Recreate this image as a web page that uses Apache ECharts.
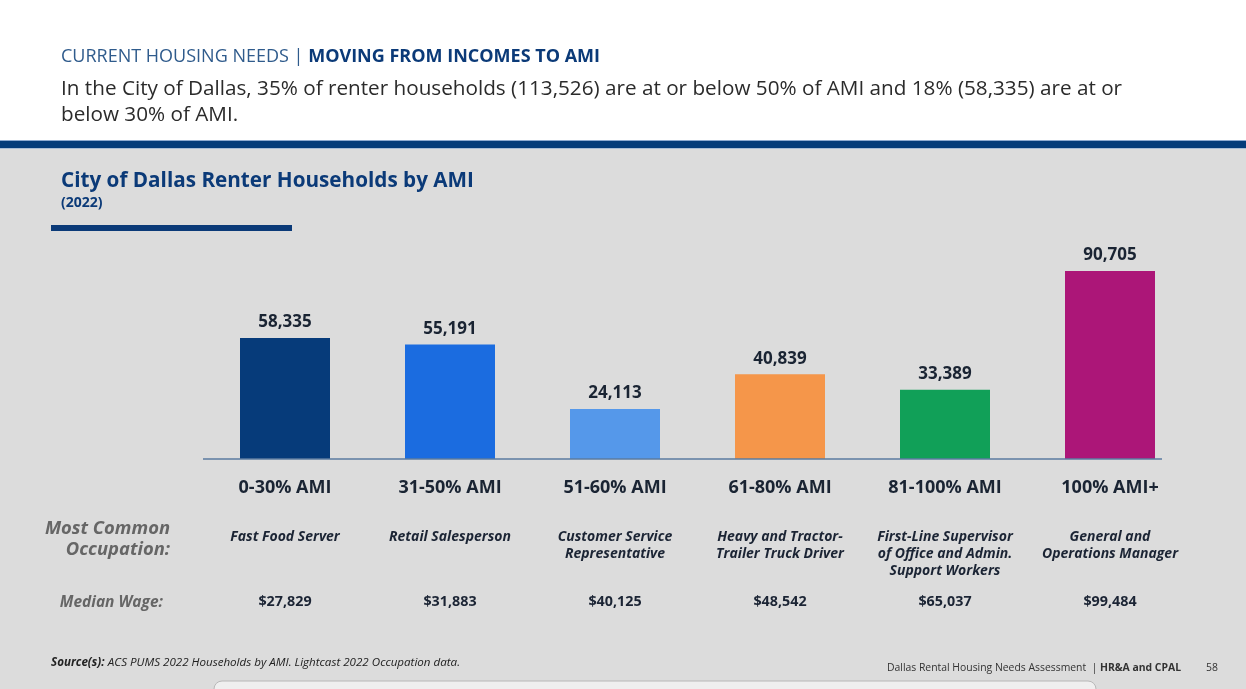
<!DOCTYPE html>
<html>
<head>
<meta charset="utf-8">
<script src="https://cdn.jsdelivr.net/npm/echarts@6/dist/echarts.min.js"></script>
<style>
html,body{margin:0;padding:0;background:#dcdcdc;}
#chart{width:1246px;height:689px;}
</style>
</head>
<body>
<div id="chart"></div>
<script>
const categories = ['0-30% AMI', '31-50% AMI', '51-60% AMI', '61-80% AMI', '81-100% AMI', '100% AMI+'];
const households = [58335, 55191, 24113, 40839, 33389, 90705];
const barColors = ['#063b7a', '#1b6ce0', '#5598ea', '#f5964a', '#11a058', '#ac1678'];
const occupations = ['Fast Food Server', 'Retail Salesperson', 'Customer Service\nRepresentative', 'Heavy and Tractor-\nTrailer Truck Driver', 'First-Line Supervisor\nof Office and Admin.\nSupport Workers', 'General and\nOperations Manager'];
const medianWages = ['$27,829', '$31,883', '$40,125', '$48,542', '$65,037', '$99,484'];

const FONT = '"Open Sans", "Noto Sans", sans-serif';
const NAVY = '#0b3a78';
const chart = echarts.init(document.getElementById('chart'), null, {renderer: 'canvas'});

const fmt = v => v.toLocaleString('en-US');

chart.setOption({
  backgroundColor: '#dcdcdc',
  animation: false,
  textStyle: {fontFamily: FONT},
  grid: {left: 202.5, right: 53.5, top: 251.7, bottom: 230},
  xAxis: [
    {
      type: 'category', data: categories, gridIndex: 0, position: 'bottom',
      axisLine: {show: false}, axisTick: {show: false},
      axisLabel: {margin: 19.5, fontSize: 18, fontWeight: 'bold', color: '#1a2433', fontFamily: FONT}
    },
    {
      type: 'category', data: occupations, gridIndex: 0, position: 'bottom',
      axisLine: {show: false}, axisTick: {show: false},
      axisLabel: {margin: 70, fontSize: 14, fontWeight: 'bold', fontStyle: 'italic', lineHeight: 17, color: '#1b2434', fontFamily: FONT, interval: 0}
    },
    {
      type: 'category', data: medianWages, gridIndex: 0, position: 'bottom',
      axisLine: {show: false}, axisTick: {show: false},
      axisLabel: {margin: 136, fontSize: 14.3, fontWeight: 'bold', color: '#1b2434', fontFamily: FONT, interval: 0}
    }
  ],
  yAxis: {
    type: 'value', min: 0, max: 100000, show: false,
    splitLine: {show: false}
  },
  series: [{
    type: 'bar',
    xAxisIndex: 0,
    data: households.map((v, i) => ({value: v, itemStyle: {color: barColors[i]}})),
    barWidth: 90,
    label: {
      show: true, position: 'top', distance: 7,
      formatter: p => fmt(p.value),
      fontSize: 17, fontWeight: 'bold', color: '#1a2433', fontFamily: FONT
    }
  }],
  graphic: [
    {type: 'rect', shape: {x: 0, y: 0, width: 1246, height: 141}, style: {fill: '#ffffff'}, z: -10, silent: true},
    {type: 'rect', shape: {x: 0, y: 140, width: 1246, height: 1}, style: {fill: '#8eaad0'}, z: -9, silent: true},
    {type: 'rect', shape: {x: 0, y: 141, width: 1246, height: 7}, style: {fill: '#053c7a'}, z: -9, silent: true},
    {type: 'rect', shape: {x: 0, y: 148, width: 1246, height: 1}, style: {fill: '#a9bdd6'}, z: -9, silent: true},
    {
      type: 'text', left: 61, top: 48,
      style: {
        text: '{a|CURRENT HOUSING NEEDS | }{b|MOVING FROM INCOMES TO AMI}',
        rich: {
          a: {fontSize: 18, fontFamily: FONT, fill: '#2f5b8c', fontWeight: 'normal'},
          b: {fontSize: 18, fontFamily: FONT, fill: NAVY, fontWeight: 'bold'}
        }
      }
    },
    {
      type: 'text', left: 61, top: 76,
      style: {
        text: 'In the City of Dallas, 35% of renter households (113,526) are at or below 50% of AMI and 18% (58,335) are at or\nbelow 30% of AMI.',
        fontSize: 20.7, lineHeight: 26, fontFamily: FONT, fill: '#2b2b2b'
      }
    },
    {
      type: 'text', left: 61, top: 171,
      style: {text: 'City of Dallas Renter Households by AMI', fontSize: 20.7, fontWeight: 'bold', fontFamily: FONT, fill: NAVY}
    },
    {
      type: 'text', left: 61, top: 196,
      style: {text: '(2022)', fontSize: 14, fontWeight: 'bold', fontFamily: FONT, fill: NAVY}
    },
    {type: 'rect', shape: {x: 51, y: 225, width: 241, height: 6}, style: {fill: NAVY}, silent: true},
    {type: 'line', shape: {x1: 203, y1: 459, x2: 1162, y2: 459}, style: {stroke: '#5b7ba0', lineWidth: 1.5}, z: 10, silent: true},
    {
      type: 'text', x: 170, y: 518,
      style: {text: 'Most Common\nOccupation:', fontSize: 18.4, lineHeight: 21, fontWeight: 'bold', fontStyle: 'italic', fontFamily: FONT, fill: '#666666', align: 'right', verticalAlign: 'top'}
    },
    {
      type: 'text', x: 163, y: 595,
      style: {text: 'Median Wage:', fontSize: 15.5, fontWeight: 'bold', fontStyle: 'italic', fontFamily: FONT, fill: '#666666', align: 'right', verticalAlign: 'top'}
    },
    {
      type: 'text', left: 51, top: 657,
      style: {
        text: '{b|Source(s):} {a|ACS PUMS 2022 Households by AMI. Lightcast 2022 Occupation data.}',
        rich: {
          a: {fontSize: 11.6, fontStyle: 'italic', fontFamily: FONT, fill: '#222'},
          b: {fontSize: 11.6, fontStyle: 'italic', fontWeight: 'bold', fontFamily: FONT, fill: '#222'}
        }
      }
    },
    {
      type: 'text', right: 1246 - 1181, top: 663,
      style: {
        text: '{a|Dallas Rental Housing Needs Assessment  | }{b|HR&A and CPAL}',
        rich: {
          a: {fontSize: 10.4, fontFamily: FONT, fill: '#333'},
          b: {fontSize: 10.4, fontWeight: 'bold', fontFamily: FONT, fill: '#333'}
        }
      }
    },
    {
      type: 'text', left: 1206, top: 663,
      style: {text: '58', fontSize: 10.4, fontFamily: FONT, fill: '#333'}
    },
    {type: 'rect', shape: {x: 214, y: 681, width: 882, height: 20, r: 8}, style: {fill: '#efefef', stroke: '#b8b8b8', lineWidth: 1}, silent: true}
  ]
});
</script>
</body>
</html>
